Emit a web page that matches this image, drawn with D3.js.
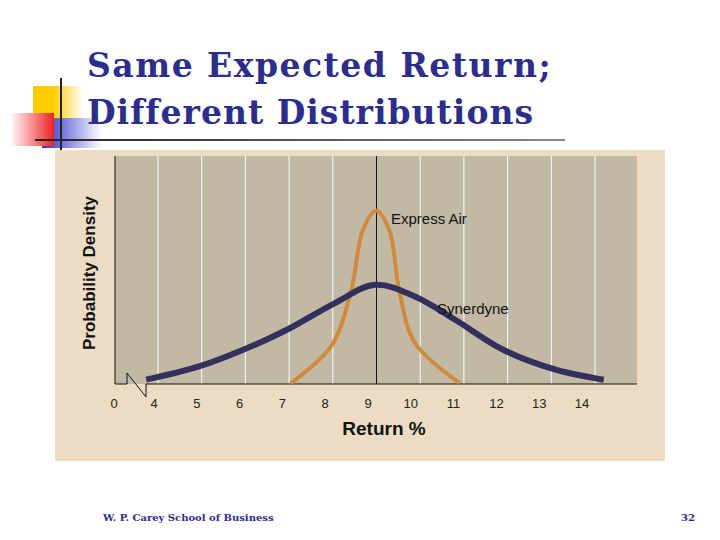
<!DOCTYPE html>
<html>
<head>
<meta charset="utf-8" />
<script src="https://d3js.org/d3.v7.min.js"></script>
<style>
  body { margin: 0; background: #fff; }
  svg { display: block; }
</style>
</head>
<body>
<svg width="720" height="540"></svg>
<script>
  // data (density on an arbitrary 0-100 scale)
  const tickValues = [4, 5, 6, 7, 8, 9, 10, 11, 12, 13, 14];
  const synerdyneX = [3.73, 4.94, 5.95, 6.95, 8.05, 8.97, 9.88, 10.8, 11.9, 13.1, 14.2];
  const synerdyneY = [1.9, 7.7, 15, 23.8, 35.5, 43.5, 38.4, 28.2, 15, 6.3, 1.9];
  const expressX = [7.04, 7.96, 8.42, 8.69, 8.99, 9.29, 9.52, 9.88, 10.9];
  const expressY = [0.4, 16.5, 41, 67.6, 76, 67.6, 41, 18, 0.4];

  const svg = d3.select("svg");

  // decoration
  const defs = svg.append("defs");
  const gr = defs.append("linearGradient").attr("id", "red");
  gr.append("stop").attr("offset", "0").attr("stop-color", "#fff");
  gr.append("stop").attr("offset", "1").attr("stop-color", "#f02020");
  const gb = defs.append("linearGradient").attr("id", "blue");
  gb.append("stop").attr("offset", "0").attr("stop-color", "#3030c8");
  gb.append("stop").attr("offset", "1").attr("stop-color", "#fff");
  const gy = defs.append("linearGradient").attr("id", "yel");
  gy.append("stop").attr("offset", "0.4").attr("stop-color", "#ffcc00");
  gy.append("stop").attr("offset", "1").attr("stop-color", "#fff");
  const gl = defs.append("linearGradient").attr("id", "line");
  gl.append("stop").attr("offset", "0").attr("stop-color", "#222");
  gl.append("stop").attr("offset", "1").attr("stop-color", "#888");

  svg.append("rect").attr("x", 33).attr("y", 86).attr("width", 50).attr("height", 32).attr("fill", "url(#yel)");
  svg.append("rect").attr("x", 42).attr("y", 118).attr("width", 60).attr("height", 30).attr("fill", "url(#blue)");
  svg.append("rect").attr("x", 10).attr("y", 113).attr("width", 44).attr("height", 33).attr("fill", "url(#red)");
  svg.append("line").attr("x1", 61).attr("x2", 61).attr("y1", 78).attr("y2", 152).attr("stroke", "#222").attr("stroke-width", 2);
  svg.append("rect").attr("x", 35).attr("y", 139).attr("width", 530).attr("height", 2).attr("fill", "url(#line)");

  svg.append("text").attr("x", 87).attr("y", 77).text("Same Expected Return;")
    .attr("font-family", "DejaVu Serif").attr("font-weight", "bold").attr("font-size", 33)
    .attr("fill", "#2d2d8c").attr("letter-spacing", 1.5);
  svg.append("text").attr("x", 87).attr("y", 124).text("Different Distributions")
    .attr("font-family", "DejaVu Serif").attr("font-weight", "bold").attr("font-size", 33)
    .attr("fill", "#2d2d8c").attr("letter-spacing", 1);

  // panel
  svg.append("rect").attr("x", 55).attr("y", 150).attr("width", 610).attr("height", 311).attr("fill", "#ecdcc3");
  const pL = 115, pR = 637, pT = 156, pB = 384;
  svg.append("rect").attr("x", pL).attr("y", pT).attr("width", pR - pL).attr("height", pB - pT).attr("fill", "#c2b9a4");

  const x = d3.scaleLinear().domain([4, 14]).range([158, 595]);
  const y = d3.scaleLinear().domain([0, 100]).range([pB, pT]);

  svg.append("g").selectAll("line").data(tickValues.filter(d => d !== 9)).join("line")
    .attr("x1", d => x(d)).attr("x2", d => x(d)).attr("y1", pT).attr("y2", pB)
    .attr("stroke", "#fff").attr("stroke-width", 1);
  svg.append("line").attr("x1", x(9)).attr("x2", x(9)).attr("y1", pT).attr("y2", pB).attr("stroke", "#111");

  // axes with break
  svg.append("line").attr("x1", pL).attr("x2", pL).attr("y1", pT).attr("y2", pB).attr("stroke", "#111");
  svg.append("path").attr("fill", "none").attr("stroke", "#111")
    .attr("d", `M${pL},${pB}H127V373L146,397V${pB}H${pR}`);

  svg.append("g").selectAll("text").data(tickValues).join("text")
    .attr("x", d => x(d) - 4 - (d - 4) * 0.9).attr("y", 408)
    .attr("text-anchor", "middle").attr("font-family", "Liberation Sans").attr("font-size", 13)
    .attr("fill", "#222").text(d => d);
  svg.append("text").attr("x", 114).attr("y", 408).attr("text-anchor", "middle")
    .attr("font-family", "Liberation Sans").attr("font-size", 13).attr("fill", "#222").text("0");

  const line = d3.line().x(d => x(d[0])).y(d => y(d[1])).curve(d3.curveCatmullRom);
  svg.append("path").datum(expressX.map((v, i) => [v, expressY[i]]))
    .attr("d", line).attr("fill", "none").attr("stroke", "#d08a3c").attr("stroke-width", 4);
  svg.append("path").datum(synerdyneX.map((v, i) => [v, synerdyneY[i]]))
    .attr("d", line).attr("fill", "none").attr("stroke", "#33305e").attr("stroke-width", 6);

  svg.append("text").attr("x", 391).attr("y", 224).text("Express Air")
    .attr("font-family", "Liberation Sans").attr("font-size", 15).attr("fill", "#111");
  svg.append("text").attr("x", 437).attr("y", 314).text("Synerdyne")
    .attr("font-family", "Liberation Sans").attr("font-size", 15).attr("fill", "#111");
  svg.append("text").attr("x", 384).attr("y", 435).attr("text-anchor", "middle").text("Return %")
    .attr("font-family", "Liberation Sans").attr("font-weight", "bold").attr("font-size", 19).attr("fill", "#111");
  svg.append("text").attr("transform", "translate(95,273) rotate(-90)").attr("text-anchor", "middle")
    .text("Probability Density")
    .attr("font-family", "Liberation Sans").attr("font-weight", "bold").attr("font-size", 17).attr("fill", "#111");

  svg.append("text").attr("x", 103).attr("y", 521).text("W. P. Carey School of Business")
    .attr("font-family", "DejaVu Serif").attr("font-weight", "bold").attr("font-size", 10).attr("fill", "#2d2d8c");
  svg.append("text").attr("x", 695).attr("y", 521).attr("text-anchor", "end").text("32")
    .attr("font-family", "DejaVu Serif").attr("font-weight", "bold").attr("font-size", 10).attr("fill", "#2d2d8c");
</script>
</body>
</html>
